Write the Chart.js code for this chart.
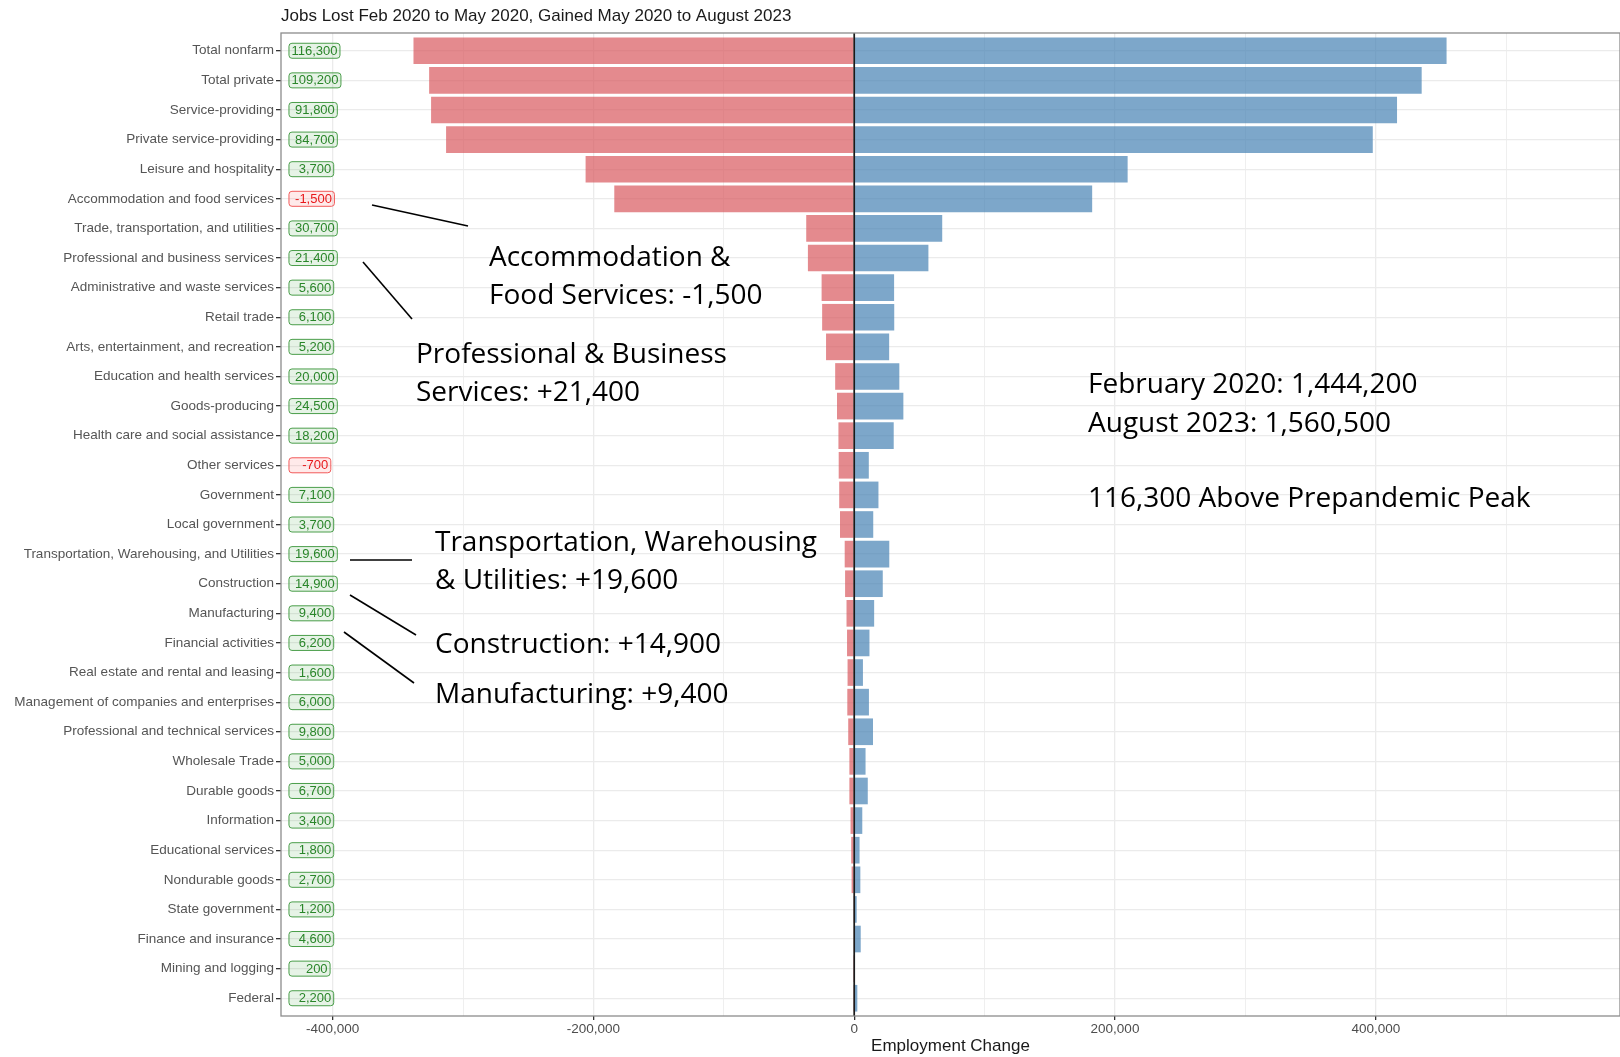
<!DOCTYPE html>
<html>
<head>
<meta charset="utf-8">
<title>Jobs Lost and Gained</title>
<script src="https://cdn.jsdelivr.net/npm/chart.js@4.4.0/dist/chart.umd.min.js"></script>
<style>
  html, body { margin: 0; padding: 0; background: #fff; }
  #wrap { width: 1620px; height: 1057px; }
</style>
</head>
<body>
<div id="wrap"><canvas id="jobsChart" width="1620" height="1057"></canvas></div>
<script>
// Industries, top to bottom
var categories = [
  "Total nonfarm", "Total private", "Service-providing", "Private service-providing",
  "Leisure and hospitality", "Accommodation and food services",
  "Trade, transportation, and utilities", "Professional and business services",
  "Administrative and waste services", "Retail trade", "Arts, entertainment, and recreation",
  "Education and health services", "Goods-producing", "Health care and social assistance",
  "Other services", "Government", "Local government",
  "Transportation, Warehousing, and Utilities", "Construction", "Manufacturing",
  "Financial activities", "Real estate and rental and leasing",
  "Management of companies and enterprises", "Professional and technical services",
  "Wholesale Trade", "Durable goods", "Information", "Educational services",
  "Nondurable goods", "State government", "Finance and insurance", "Mining and logging",
  "Federal"
];

// Feb 2020 -> May 2020
var jobsLost = [
  -338000, -326000, -324500, -313000, -206000, -184000, -36800, -35500, -25000, -24600,
  -21600, -14600, -13200, -12100, -11900, -11500, -10900, -7300, -7000, -5900,
  -5500, -5100, -5300, -4600, -3700, -3700, -2800, -2300, -2000, -700,
  -400, -100, -200
];

// May 2020 -> Aug 2023
var jobsGained = [
  454300, 435200, 416300, 397700, 209700, 182500, 67500, 56900, 30600, 30700,
  26800, 34600, 37700, 30300, 11200, 18600, 14600, 26900, 21900, 15300,
  11700, 6700, 11300, 14400, 8700, 10400, 6200, 4100, 4700, 1900,
  5000, 300, 2400
];

// Net change Feb 2020 -> Aug 2023 (the boxed labels)
var netChange = [
  116300, 109200, 91800, 84700, 3700, -1500, 30700, 21400, 5600, 6100,
  5200, 20000, 24500, 18200, -700, 7100, 3700, 19600, 14900, 9400,
  6200, 1600, 6000, 9800, 5000, 6700, 3400, 1800, 2700, 1200,
  4600, 200, 2200
];

var xTicks = [-400000, -300000, -200000, -100000, 0, 100000, 200000, 300000, 400000, 500000];
var X_MIN = -439600;
var X_MAX = 587300;
var LABEL_X = -433500; // left edge of the net change boxes

var chartTitle = "Jobs Lost Feb 2020 to May 2020, Gained May 2020 to August 2023";

// callouts pasted on top of the chart
var calloutLines = [
  [372, 205, 468, 226],
  [363, 262, 412, 319],
  [350, 560, 412, 560],
  [350, 595, 416, 635],
  [344, 632, 414, 683]
];
var calloutText = [
  ["Accommodation &", 489, 266],
  ["Food Services: -1,500", 489, 304],
  ["Professional & Business", 416, 363],
  ["Services: +21,400", 416, 401],
  ["February 2020: 1,444,200", 1088, 393],
  ["August 2023: 1,560,500", 1088, 432],
  ["116,300 Above Prepandemic Peak", 1088, 507],
  ["Transportation, Warehousing", 435, 551],
  ["& Utilities: +19,600", 435, 589],
  ["Construction: +14,900", 435, 653],
  ["Manufacturing: +9,400", 435, 703]
];

var baseFont = "'Liberation Sans', Arial, Helvetica, sans-serif";
Chart.defaults.font.family = baseFont;

function fmt(v) {
  return v.toLocaleString("en-US");
}

var overlayPlugin = {
  id: "overlay",
  afterDatasetsDraw: function (chart) {
    var ctx = chart.ctx;
    var area = chart.chartArea;
    var xs = chart.scales.x;
    var ys = chart.scales.y;

    ctx.save();
    // zero line
    var x0 = xs.getPixelForValue(0);
    ctx.strokeStyle = "#1a1a1a";
    ctx.lineWidth = 1.7;
    ctx.beginPath();
    ctx.moveTo(x0, area.top);
    ctx.lineTo(x0, area.bottom);
    ctx.stroke();

    // net change boxes
    ctx.font = "13px " + baseFont;
    ctx.textBaseline = "middle";
    ctx.textAlign = "left";
    var left = xs.getPixelForValue(LABEL_X);
    netChange.forEach(function (v, i) {
      var s = fmt(v);
      while (s.length < 7) s = " " + s;
      var w = ctx.measureText(s).width;
      var cy = ys.getPixelForValue(i);
      var neg = v < 0;
      ctx.beginPath();
      ctx.roundRect(left, cy - 7.5, w + 5, 15, 3);
      ctx.fillStyle = neg ? "rgba(255,90,90,0.13)" : "rgba(60,160,60,0.13)";
      ctx.fill();
      ctx.lineWidth = 1;
      ctx.strokeStyle = neg ? "#f25a5a" : "#4a9e4a";
      ctx.stroke();
      ctx.fillStyle = neg ? "#e8191c" : "#2a862a";
      ctx.fillText(s, left + 2.5, cy + 0.5);
    });

    // panel border
    ctx.strokeStyle = "#8c8c8c";
    ctx.lineWidth = 1.3;
    ctx.strokeRect(area.left, area.top, area.right - area.left, area.bottom - area.top);
    ctx.restore();
  },
  afterDraw: function (chart) {
    var ctx = chart.ctx;
    ctx.save();
    ctx.fillStyle = "#1a1a1a";
    ctx.font = "17px " + baseFont;
    ctx.textBaseline = "middle";
    ctx.textAlign = "left";
    ctx.fillText(chartTitle, chart.chartArea.left, 16);

    ctx.strokeStyle = "#000";
    ctx.lineWidth = 1.6;
    calloutLines.forEach(function (l) {
      ctx.beginPath();
      ctx.moveTo(l[0], l[1]);
      ctx.lineTo(l[2], l[3]);
      ctx.stroke();
    });

    ctx.fillStyle = "#000";
    ctx.font = "28px 'Open Sans', 'Noto Sans', sans-serif";
    ctx.textBaseline = "alphabetic";
    calloutText.forEach(function (t) {
      ctx.fillText(t[0], t[1], t[2]);
    });
    ctx.restore();
  }
};

var lostData = jobsLost.map(function (v, i) { return { x: v, y: i }; });
var gainedData = jobsGained.map(function (v, i) { return { x: v, y: i }; });

new Chart(document.getElementById("jobsChart"), {
  type: "bar",
  data: {
    datasets: [
      {
        label: "Jobs lost",
        data: lostData,
        backgroundColor: "rgba(216, 88, 94, 0.7)",
        borderWidth: 0,
        categoryPercentage: 0.9,
        barPercentage: 1.0
      },
      {
        label: "Jobs gained",
        data: gainedData,
        backgroundColor: "rgba(70, 130, 180, 0.7)",
        borderWidth: 0,
        categoryPercentage: 0.9,
        barPercentage: 1.0
      }
    ]
  },
  options: {
    indexAxis: "y",
    responsive: false,
    animation: false,
    layout: { padding: { top: 33, left: 0, right: 0, bottom: 0 } },
    plugins: {
      legend: { display: false },
      tooltip: { enabled: false },
      title: { display: false }
    },
    scales: {
      x: {
        type: "linear",
        min: X_MIN,
        max: X_MAX,
        stacked: true,
        afterBuildTicks: function (s) {
          s.ticks = xTicks.map(function (v) { return { value: v }; });
        },
        afterFit: function (s) { s.height = 41; },
        ticks: {
          autoSkip: false,
          maxRotation: 0,
          padding: 1,
          color: "#4d4d4d",
          font: { size: 13.5 },
          callback: function (v) { return v % 200000 === 0 ? fmt(v) : ""; }
        },
        grid: {
          color: "#ebebeb",
          lineWidth: function (c) { return c.tick && c.tick.value % 200000 === 0 ? 1.3 : 0.8; },
          tickColor: function (c) { return c.tick && c.tick.value % 200000 === 0 ? "#333" : "rgba(0,0,0,0)"; },
          tickLength: 4
        },
        border: { display: false },
        title: {
          display: true,
          text: "Employment Change",
          color: "#1a1a1a",
          font: { size: 17 },
          padding: { top: 0, bottom: 0 }
        }
      },
      y: {
        type: "linear",
        reverse: true,
        offset: false,
        min: -0.6,
        max: categories.length - 0.4,
        stacked: true,
        afterBuildTicks: function (s) {
          s.ticks = categories.map(function (c, i) { return { value: i }; });
        },
        afterFit: function (s) { s.width = 281; },
        ticks: {
          autoSkip: false,
          padding: 2,
          color: "#555",
          font: { size: 13.5 },
          callback: function (v) { return categories[v]; }
        },
        grid: {
          offset: false,
          color: "#ebebeb",
          lineWidth: 1.3,
          tickColor: "#333",
          tickLength: 5
        },
        border: { display: false }
      }
    }
  },
  plugins: [overlayPlugin]
});
</script>
</body>
</html>
